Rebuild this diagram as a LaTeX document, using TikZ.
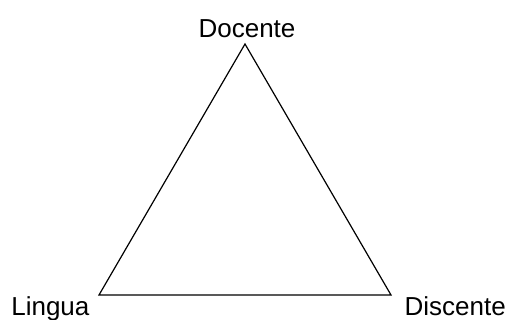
\documentclass[tikz,border=0pt]{standalone}
\usepackage{fontspec}
\setmainfont{Liberation Sans}
\usepackage{tikz}

\begin{document}
\begin{tikzpicture}[x=0.5pt, y=-0.5pt, line width=0.6pt,
  vertexlabel/.style={inner sep=0pt, font=\fontsize{13}{15}\selectfont}]

  \useasboundingbox (0,0) rectangle (509,320);

  % -- corners of the triangle --------------------------------------------
  \coordinate (top)   at (245,44);
  \coordinate (left)  at (99,295);
  \coordinate (right) at (391,295);

  \draw (top) -- (right) -- (left) -- cycle;

  % -- labels ---------------------------------------------------------------
  \node[vertexlabel, anchor=base]      (docente)  at (247,38)  {Docente};
  \node[vertexlabel, anchor=base east] (lingua)   at (90,316)  {Lingua};
  \node[vertexlabel, anchor=base west] (discente) at (404,316) {Discente};

\end{tikzpicture}
\end{document}
